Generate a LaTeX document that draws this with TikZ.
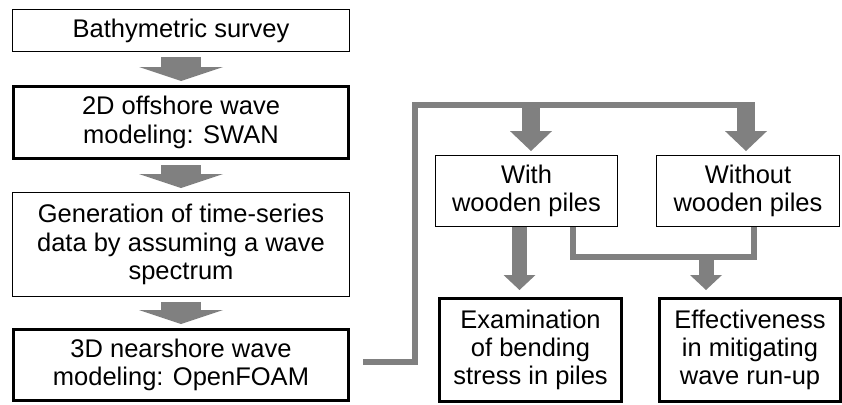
\documentclass[tikz,border=0pt]{standalone}
\usepackage{fontspec}
\setmainfont{Liberation Sans}
\usetikzlibrary{arrows.meta,positioning}
\definecolor{flowgray}{RGB}{128,128,128}

\begin{document}
\begin{tikzpicture}[
    x=1pt, y=-1pt,
    every node/.style={font=\fontsize{25.5}{28.3}\selectfont},
    box/.style={rectangle, draw=black, fill=white, align=center, inner sep=2pt, line width=#1},
    box/.default=0.9pt,
    plainbox/.style={box=0.9pt},
    keybox/.style={box=3pt},
    colarr/.style={-{Triangle[length=14pt,width=84pt,line width=0pt]}, line width=40pt, draw=flowgray, shorten <=5pt, shorten >=4pt},
    brarr/.style={-{Triangle[length=20pt,width=42pt,line width=0pt]}, line width=18pt, draw=flowgray, shorten >=4pt},
    subarr/.style={-{Triangle[length=15pt,width=32pt,line width=0pt]}, line width=15pt, draw=flowgray, shorten >=7pt},
    link/.style={line width=6pt, draw=flowgray},
]
\useasboundingbox (0,0) rectangle (842,404);

% --- Modelling column (left) ----------------------------------------
\node[plainbox, minimum width=337pt, minimum height=42pt]  (survey) at (181, 30.5) {Bathymetric survey};
\node[keybox,   minimum width=335pt, minimum height=72pt]  (swan)   at (181,122.5) {2D offshore wave\\modeling: SWAN};
\node[plainbox, minimum width=337pt, minimum height=104pt] (gen)    at (181,244.5) {Generation of time-series\\data by assuming a wave\\spectrum};
\node[keybox,   minimum width=335pt, minimum height=71pt]  (foam)   at (181,365)   {3D nearshore wave\\modeling: OpenFOAM};

% --- Cases (right, top row) -----------------------------------------
\node[plainbox, minimum width=182pt, minimum height=71pt] (with)    at (526.5,191) {With\\wooden piles};
\node[plainbox, minimum width=183pt, minimum height=71pt] (without) at (748,191)   {Without\\wooden piles};

% --- Results (right, bottom row) ------------------------------------
\node[keybox, minimum width=182pt, minimum height=103pt] (exam)   at (530.5,350) {Examination\\of bending\\stress in piles};
\node[keybox, minimum width=181pt, minimum height=103pt] (effect) at (750,350)   {Effectiveness\\in mitigating\\wave run-up};

% --- Left column flow -----------------------------------------------
\draw[colarr] (survey) -- (swan);
\draw[colarr] (swan)   -- (gen);
\draw[colarr] (gen)    -- (foam);

% --- Split from OpenFOAM to both cases ------------------------------
\coordinate (split) at (414.5,104.5);
\draw[link, shorten <=13pt] ([yshift=3.5pt]foam.east) -| (split) -- ([xshift=7pt]split -| without);
\draw[brarr] ([xshift=4.5pt]split -| with)  -- ([xshift=4.5pt]with.north);
\draw[brarr] ([xshift=-2pt]split -| without) -- ([xshift=-2pt]without.north);

% --- Cases to results -----------------------------------------------
\draw[subarr] ([xshift=-7pt]with.south) -- ([xshift=-7pt]with.south |- exam.north);
\coordinate (merge) at (706,256.5);
\draw[link] ([xshift=46pt]with.south) |- (merge) -| ([xshift=5.5pt]without.south);
\draw[subarr] (merge) -- (merge |- effect.north);
\end{tikzpicture}
\end{document}
